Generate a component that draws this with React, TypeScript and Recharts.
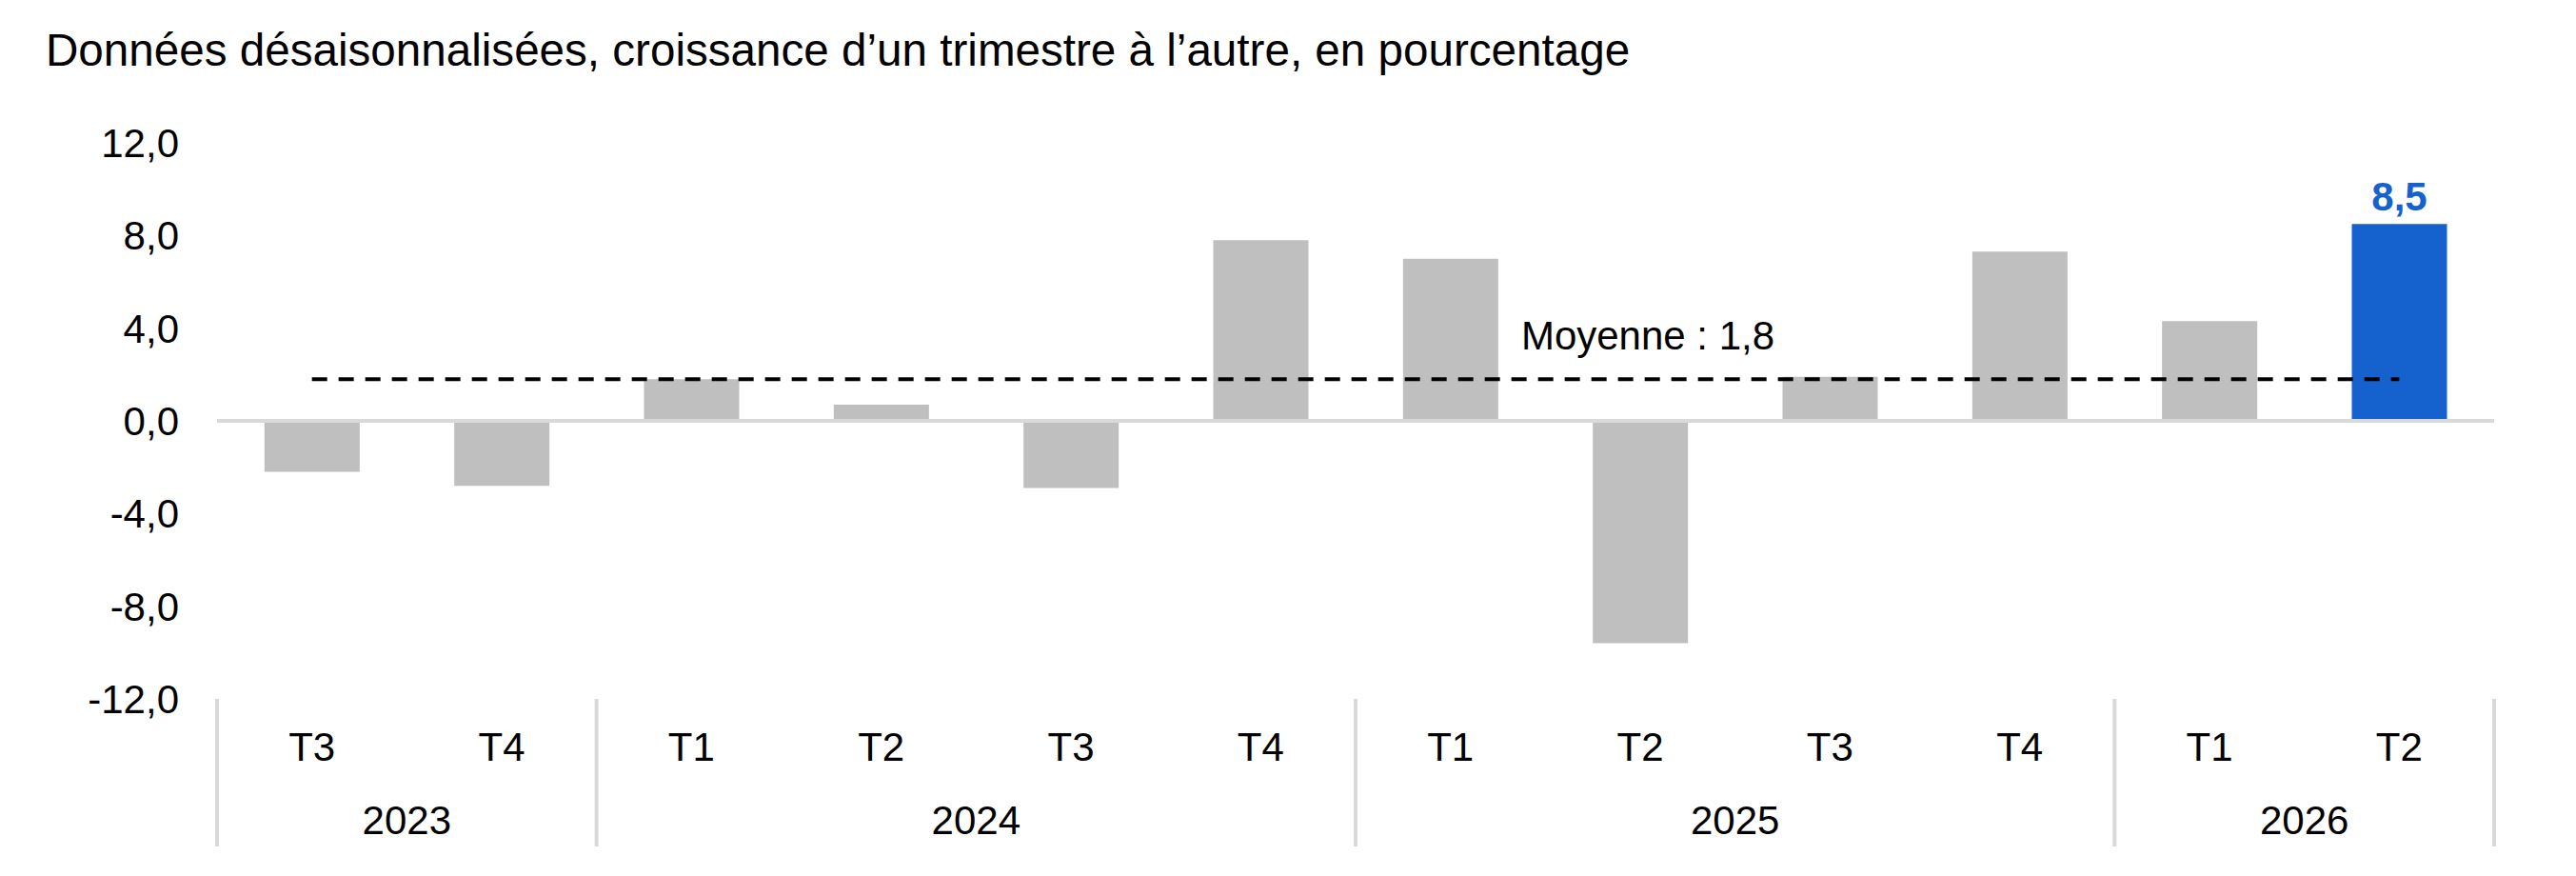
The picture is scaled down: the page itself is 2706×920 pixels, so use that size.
import React from 'react';
import { Bar, Line, XAxis, YAxis, Cell, ReferenceLine, LabelList, ComposedChart } from 'recharts';

// ---- data ----
const quarters = ['T3', 'T4', 'T1', 'T2', 'T3', 'T4', 'T1', 'T2', 'T3', 'T4', 'T1', 'T2'];
const years = ['2023', '2023', '2024', '2024', '2024', '2024', '2025', '2025', '2025', '2025', '2026', '2026'];
const values = [-2.2, -2.8, 1.8, 0.7, -2.9, 7.8, 7.0, -9.6, 1.9, 7.3, 4.3, 8.5];
const moyenne = 1.8;
const yTicks = [-12, -8, -4, 0, 4, 8, 12];
const highlightIndex = 11;
const meanLabelIndex = 7;
const title = 'Données désaisonnalisées, croissance d’un trimestre à l’autre, en pourcentage';
const meanLabel = 'Moyenne : 1,8';

// ---- style ----
const FONT = '"Liberation Sans", Arial, Helvetica, sans-serif';
const GRAY = '#BFBFBF';
const BLUE = '#1562CF';
const LINE_GRAY = '#D9D9D9';
const W = 2706;
const H = 920;
const MARGIN = { top: 150, right: 86, bottom: 0, left: 48 };
const Y_AXIS_W = 180;
const X_AXIS_H = 186;
const PLOT_W = W - MARGIN.left - MARGIN.right - Y_AXIS_W;

const data = quarters.map((q, i) => ({
  key: `${years[i]}-${q}`,
  quarter: q,
  year: years[i],
  value: values[i],
  moyenne,
}));

const fmt = (v: number) => v.toFixed(1).replace('.', ',');

const XTick = (props: any) => {
  const { x, y, payload } = props;
  const i: number = payload.index;
  const bw = PLOT_W / quarters.length;
  const isFirst = i === 0 || years[i] !== years[i - 1];
  const isLast = i === quarters.length - 1;
  let count = 0;
  if (isFirst) {
    let j = i;
    while (j < years.length && years[j] === years[i]) { count++; j++; }
  }
  const left = x - bw / 2;
  return (
    <g>
      {isFirst && (
        <line x1={left} x2={left} y1={y} y2={y + 155} stroke={LINE_GRAY} strokeWidth={4} />
      )}
      {isLast && (
        <line x1={x + bw / 2} x2={x + bw / 2} y1={y} y2={y + 155} stroke={LINE_GRAY} strokeWidth={4} />
      )}
      <text x={x} y={y + 65} textAnchor="middle" fontSize={42} fontFamily={FONT} fill="#000">
        {quarters[i]}
      </text>
      {isFirst && (
        <text x={left + (count * bw) / 2} y={y + 142} textAnchor="middle" fontSize={42} fontFamily={FONT} fill="#000">
          {years[i]}
        </text>
      )}
    </g>
  );
};

const BarValueLabel = (props: any) => {
  const { x, y, width, index, value } = props;
  if (index !== highlightIndex) return null;
  return (
    <text x={x + width / 2} y={y - 14} textAnchor="middle" fontSize={42} fontWeight="bold" fontFamily={FONT} fill={BLUE}>
      {fmt(value)}
    </text>
  );
};

const MeanLabel = (props: any) => {
  const { x, y, index } = props;
  if (index !== meanLabelIndex) return null;
  return (
    <text x={x + 8} y={y - 31} textAnchor="middle" fontSize={42} fontFamily={FONT} fill="#000">
      {meanLabel}
    </text>
  );
};

export default function App() {
  return (
    <div style={{ position: 'absolute', left: 0, top: 0, width: W, height: H, background: '#fff' }}>
      <div
        style={{
          position: 'absolute',
          left: 48,
          top: 29,
          fontFamily: FONT,
          fontSize: 47.6,
          lineHeight: 1,
          color: '#000',
          whiteSpace: 'nowrap',
        }}
      >
        {title}
      </div>
      <ComposedChart width={W} height={H} data={data} margin={MARGIN} barCategoryGap="25%">
        <XAxis
          dataKey="key"
          height={X_AXIS_H}
          axisLine={false}
          tickLine={false}
          tickSize={0}
          tickMargin={0}
          interval={0}
          tick={<XTick />}
        />
        <YAxis
          width={Y_AXIS_W}
          domain={[-12, 12]}
          ticks={yTicks}
          interval={0}
          axisLine={false}
          tickLine={false}
          tickSize={0}
          tickMargin={40}
          tickFormatter={fmt}
          tick={{ fontSize: 42, fill: '#000', fontFamily: FONT }}
        />
        <Bar dataKey="value" isAnimationActive={false}>
          {data.map((d, i) => (
            <Cell key={d.key} fill={i === highlightIndex ? BLUE : GRAY} />
          ))}
          <LabelList dataKey="value" content={<BarValueLabel />} />
        </Bar>
        <ReferenceLine y={0} stroke={LINE_GRAY} strokeWidth={4} />
        <Line
          dataKey="moyenne"
          type="linear"
          stroke="#000"
          strokeWidth={4}
          strokeDasharray="16 12"
          dot={false}
          activeDot={false}
          isAnimationActive={false}
        >
          <LabelList dataKey="moyenne" content={<MeanLabel />} />
        </Line>
      </ComposedChart>
    </div>
  );
}
